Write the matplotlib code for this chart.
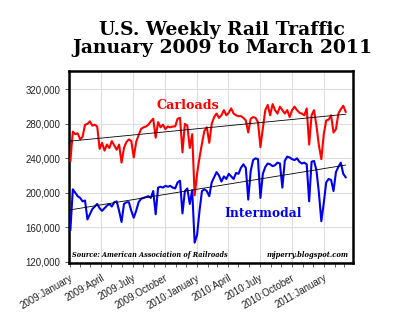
import numpy as np
import pandas as pd
import matplotlib
matplotlib.use('Agg')
import matplotlib.pyplot as plt
import matplotlib.dates as mdates

# weekly carloads and intermodal units, thousands
carloads = [237, 271, 268, 269, 262, 265, 279, 280, 283, 278,
            279, 277, 251, 258, 249, 256, 252, 260, 255, 250,
            256, 235, 252, 259, 262, 260, 241, 259, 267, 274,
            276, 277, 279, 283, 286, 264, 282, 276, 279, 274,
            277, 276, 277, 277, 286, 287, 247, 280, 278, 252,
            268, 197, 222, 241, 257, 272, 276, 258, 280, 288,
            292, 287, 290, 296, 290, 293, 298, 292, 290, 289,
            289, 287, 284, 270, 286, 288, 287, 282, 253, 275,
            296, 302, 290, 303, 296, 292, 300, 296, 292, 296,
            288, 296, 300, 296, 293, 292, 290, 298, 256, 290,
            296, 278, 255, 239, 268, 284, 285, 290, 270, 274,
            292, 297, 301, 294]
intermodal = [157, 204, 200, 196, 194, 190, 191, 169, 175, 181,
              184, 187, 182, 179, 182, 185, 187, 184, 189, 190,
              179, 166, 187, 189, 189, 179, 171, 179, 189, 193,
              194, 195, 196, 194, 202, 175, 206, 207, 206, 208,
              207, 208, 206, 205, 212, 214, 176, 202, 205, 187,
              203, 142, 151, 179, 202, 204, 202, 196, 212, 218,
              224, 220, 213, 219, 216, 222, 219, 216, 223, 222,
              229, 233, 229, 192, 225, 238, 240, 239, 194, 222,
              230, 234, 233, 231, 232, 235, 234, 206, 237, 242,
              241, 239, 238, 240, 236, 234, 235, 233, 190, 236,
              237, 226, 200, 167, 188, 212, 216, 215, 202, 224,
              230, 235, 222, 218]

weeks = pd.date_range('2009-01-03', periods=len(carloads), freq='7D')
carloads = np.array(carloads) * 1000
intermodal = np.array(intermodal) * 1000

tick_dates = pd.date_range('2009-01-01', '2011-01-01', freq='3MS')
tick_labels = [f'{d.year}:{d.strftime("%B")}' for d in tick_dates]
yticks = [120000, 160000, 200000, 240000, 280000, 320000]

fig = plt.figure(figsize=(4.0, 3.27), dpi=100)
ax = fig.add_axes([0.1725, 0.196, 0.71, 0.587])

x = mdates.date2num(weeks)
for y, col in [(carloads, '#ff0000'), (intermodal, '#0000ee')]:
    ax.plot(weeks, y, color=col, lw=1.5, zorder=3)
    # linear trend
    k, b = np.polyfit(x, y, 1)
    ax.plot(weeks, k * x + b, color='black', lw=0.6, zorder=4)

ax.set_xlim(pd.Timestamp('2008-12-30'), pd.Timestamp('2011-03-26'))
ax.set_ylim(118500, 341500)

ax.set_yticks(yticks)
ax.set_yticklabels([f'{v:,}' for v in yticks])
ax.set_xticks(tick_dates)
ax.set_xticklabels(tick_labels, rotation=30, ha='right', rotation_mode='anchor')
ax.xaxis.set_minor_locator(mdates.MonthLocator())
ax.tick_params(axis='both', labelsize=7, labelcolor='#222222', color='#444444',
               length=3, width=0.6, pad=3, labelfontfamily='Liberation Sans')
ax.tick_params(axis='x', which='minor', length=3, width=0.6, color='#444444')
ax.tick_params(axis='x', which='major', pad=4)

ax.grid(True, color='#dddddd', lw=0.8, zorder=0)
for s in ax.spines.values():
    s.set_linewidth(1.8)
    s.set_color('black')

ax.text(0.42, 0.82, 'Carloads', transform=ax.transAxes, color='#ff0000',
        fontsize=9.2, fontweight='bold', family='DejaVu Serif', ha='center', va='center')
ax.text(0.683, 0.26, 'Intermodal', transform=ax.transAxes, color='#0000ee',
        fontsize=8.8, fontweight='bold', family='DejaVu Serif', ha='center', va='center')
ax.text(0.012, 0.04, 'Source: American Association of Railroads', transform=ax.transAxes,
        fontsize=4.7, fontweight='bold', style='italic', family='DejaVu Serif', va='center')
ax.text(0.985, 0.04, 'mjperry.blogspot.com', transform=ax.transAxes, ha='right',
        fontsize=4.9, fontweight='bold', style='italic', family='DejaVu Serif', va='center')

fig.text(0.555, 0.937, 'U.S. Weekly Rail Traffic\nJanuary 2009 to March 2011',
         ha='center', va='top', fontsize=13.5, fontweight='bold', family='DejaVu Serif',
         linespacing=1.05)

fig.savefig('out.png', dpi=100)
